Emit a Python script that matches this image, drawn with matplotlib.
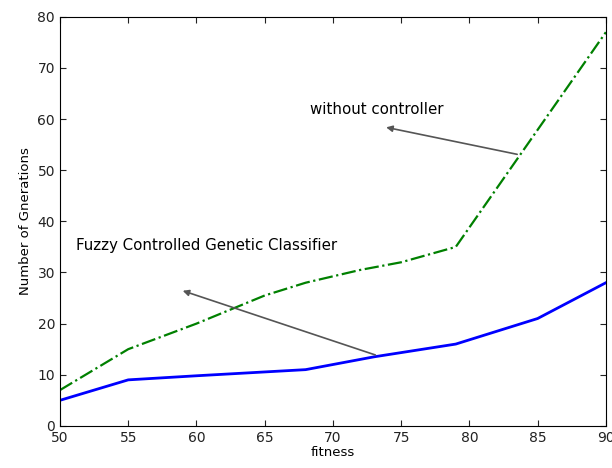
import numpy as np
import matplotlib.pyplot as plt

plt.rcParams['font.family'] = ['DejaVu Sans']

# data
fit_fuzzy = [50, 55, 60, 68, 73, 79, 85, 90]
gen_fuzzy = [5, 9, 9.8, 11, 13.5, 16, 21, 28]

fit_plain = [50, 55, 60, 65, 68, 72, 75, 79, 90]
gen_plain = [7, 15, 20, 25.5, 28, 30.5, 32, 35, 77]

fig = plt.figure(figsize=(6.12, 4.68), dpi=100)
ax = fig.add_axes([0.098, 0.09, 0.892, 0.874])

ax.plot(fit_fuzzy, gen_fuzzy, color='#0000ff', lw=2)
ax.plot(fit_plain, gen_plain, color='#008000', lw=1.6, ls='-.')

ax.set_xlim(50, 90)
ax.set_ylim(0, 80)
ax.set_xticks(np.arange(50, 91, 5))
ax.set_yticks(np.arange(0, 81, 10))
ax.tick_params(direction='in', top=True, right=True, labelsize=10, length=4,
               colors='#222222')
ax.set_xlabel('fitness', fontsize=9.5, labelpad=1)
ax.set_ylabel('Number of Gnerations', fontsize=9.5)

arrow = dict(arrowstyle='-|>', color='#555555', lw=1.2, mutation_scale=9)
ax.annotate('', xy=(73.7, 58.5), xytext=(83.7, 53), arrowprops=arrow)
ax.text(68.3, 61, 'without controller', fontsize=10.8)
ax.annotate('', xy=(58.8, 26.6), xytext=(73.3, 13.7), arrowprops=arrow)
ax.text(51.2, 34.4, 'Fuzzy Controlled Genetic Classifier', fontsize=10.8)

fig.savefig('out.png', dpi=100)
